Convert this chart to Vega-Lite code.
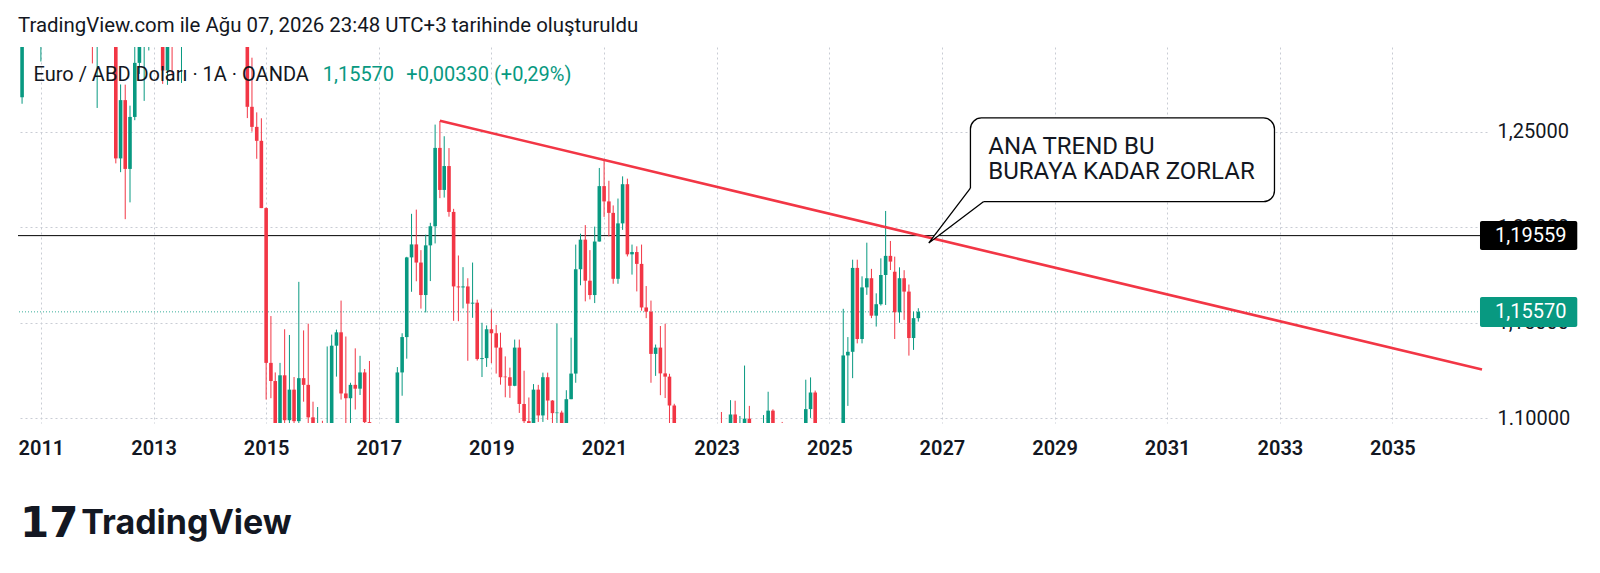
{
  "$schema": "https://vega.github.io/schema/vega-lite/v6.json",
  "width": 1469,
  "height": 376,
  "autosize": "none",
  "padding": {"left": 18, "top": 47, "right": 113, "bottom": 150},
  "background": "white",
  "config": {"view": {"stroke": null}, "font": "Roboto", "text": {"font": "Roboto"}},
  "title": {"text": "TradingView.com ile Ağu 07, 2026 23:48 UTC+3 tarihinde oluşturuldu", "anchor": "start", "frame": "group", "fontSize": 20.4, "fontWeight": "normal", "color": "#131722", "font": "Roboto", "baseline": "alphabetic", "offset": 14, "dy": 19},
  "datasets": {
    "eurusd": [
      {"date":"2010-09-01","open":1.2680,"high":1.3646,"low":1.2646,"close":1.3633},
      {"date":"2010-10-01","open":1.3633,"high":1.4157,"low":1.3618,"close":1.3924},
      {"date":"2010-11-01","open":1.3924,"high":1.4282,"low":1.2969,"close":1.2983},
      {"date":"2010-12-01","open":1.2983,"high":1.3500,"low":1.2970,"close":1.3380},
      {"date":"2011-01-01","open":1.3380,"high":1.3860,"low":1.2867,"close":1.3693},
      {"date":"2011-02-01","open":1.3693,"high":1.3862,"low":1.3430,"close":1.3806},
      {"date":"2011-03-01","open":1.3806,"high":1.4249,"low":1.3748,"close":1.4165},
      {"date":"2011-04-01","open":1.4165,"high":1.4940,"low":1.4150,"close":1.4808},
      {"date":"2011-05-01","open":1.4808,"high":1.4939,"low":1.3968,"close":1.4395},
      {"date":"2011-06-01","open":1.4395,"high":1.4700,"low":1.4071,"close":1.4500},
      {"date":"2011-07-01","open":1.4500,"high":1.4578,"low":1.4051,"close":1.4397},
      {"date":"2011-08-01","open":1.4397,"high":1.4550,"low":1.4133,"close":1.4385},
      {"date":"2011-09-01","open":1.4385,"high":1.4405,"low":1.3362,"close":1.3390},
      {"date":"2011-10-01","open":1.3390,"high":1.4247,"low":1.3144,"close":1.3860},
      {"date":"2011-11-01","open":1.3860,"high":1.3870,"low":1.3210,"close":1.3450},
      {"date":"2011-12-01","open":1.3450,"high":1.3550,"low":1.2857,"close":1.2960},
      {"date":"2012-01-01","open":1.2960,"high":1.3234,"low":1.2624,"close":1.3080},
      {"date":"2012-02-01","open":1.3080,"high":1.3487,"low":1.2973,"close":1.3330},
      {"date":"2012-03-01","open":1.3330,"high":1.3385,"low":1.3002,"close":1.3320},
      {"date":"2012-04-01","open":1.3320,"high":1.3380,"low":1.3002,"close":1.3240},
      {"date":"2012-05-01","open":1.3240,"high":1.3283,"low":1.2334,"close":1.2360},
      {"date":"2012-06-01","open":1.2360,"high":1.2747,"low":1.2288,"close":1.2665},
      {"date":"2012-07-01","open":1.2665,"high":1.2746,"low":1.2042,"close":1.2305},
      {"date":"2012-08-01","open":1.2305,"high":1.2636,"low":1.2130,"close":1.2577},
      {"date":"2012-09-01","open":1.2577,"high":1.3172,"low":1.2560,"close":1.2860},
      {"date":"2012-10-01","open":1.2860,"high":1.3140,"low":1.2802,"close":1.2960},
      {"date":"2012-11-01","open":1.2960,"high":1.3010,"low":1.2661,"close":1.2985},
      {"date":"2012-12-01","open":1.2985,"high":1.3308,"low":1.2925,"close":1.3190},
      {"date":"2013-01-01","open":1.3190,"high":1.3711,"low":1.3038,"close":1.3575},
      {"date":"2013-02-01","open":1.3575,"high":1.3711,"low":1.3019,"close":1.3055},
      {"date":"2013-03-01","open":1.3055,"high":1.3110,"low":1.2750,"close":1.2820},
      {"date":"2013-04-01","open":1.2820,"high":1.3243,"low":1.2745,"close":1.3170},
      {"date":"2013-05-01","open":1.3170,"high":1.3242,"low":1.2797,"close":1.2996},
      {"date":"2013-06-01","open":1.2996,"high":1.3417,"low":1.2950,"close":1.3010},
      {"date":"2013-07-01","open":1.3010,"high":1.3345,"low":1.2755,"close":1.3300},
      {"date":"2013-08-01","open":1.3300,"high":1.3450,"low":1.3205,"close":1.3220},
      {"date":"2013-09-01","open":1.3220,"high":1.3567,"low":1.3105,"close":1.3525},
      {"date":"2013-10-01","open":1.3525,"high":1.3832,"low":1.3470,"close":1.3585},
      {"date":"2013-11-01","open":1.3585,"high":1.3620,"low":1.3295,"close":1.3590},
      {"date":"2013-12-01","open":1.3590,"high":1.3893,"low":1.3548,"close":1.3765},
      {"date":"2014-01-01","open":1.3765,"high":1.3775,"low":1.3480,"close":1.3485},
      {"date":"2014-02-01","open":1.3485,"high":1.3824,"low":1.3477,"close":1.3805},
      {"date":"2014-03-01","open":1.3805,"high":1.3967,"low":1.3707,"close":1.3770},
      {"date":"2014-04-01","open":1.3770,"high":1.3906,"low":1.3673,"close":1.3870},
      {"date":"2014-05-01","open":1.3870,"high":1.3993,"low":1.3592,"close":1.3635},
      {"date":"2014-06-01","open":1.3635,"high":1.3700,"low":1.3503,"close":1.3690},
      {"date":"2014-07-01","open":1.3690,"high":1.3700,"low":1.3366,"close":1.3390},
      {"date":"2014-08-01","open":1.3390,"high":1.3444,"low":1.3130,"close":1.3130},
      {"date":"2014-09-01","open":1.3130,"high":1.3221,"low":1.2571,"close":1.2630},
      {"date":"2014-10-01","open":1.2630,"high":1.2887,"low":1.2500,"close":1.2525},
      {"date":"2014-11-01","open":1.2525,"high":1.2601,"low":1.2358,"close":1.2452},
      {"date":"2014-12-01","open":1.2452,"high":1.2570,"low":1.2100,"close":1.2100},
      {"date":"2015-01-01","open":1.2100,"high":1.2104,"low":1.1098,"close":1.1290},
      {"date":"2015-02-01","open":1.1290,"high":1.1535,"low":1.1105,"close":1.1195},
      {"date":"2015-03-01","open":1.1195,"high":1.1240,"low":1.0458,"close":1.0730},
      {"date":"2015-04-01","open":1.0730,"high":1.1290,"low":1.0520,"close":1.1225},
      {"date":"2015-05-01","open":1.1225,"high":1.1466,"low":1.0818,"close":1.0990},
      {"date":"2015-06-01","open":1.0990,"high":1.1436,"low":1.0887,"close":1.1150},
      {"date":"2015-07-01","open":1.1150,"high":1.1216,"low":1.0808,"close":1.0985},
      {"date":"2015-08-01","open":1.0985,"high":1.1714,"low":1.0848,"close":1.1210},
      {"date":"2015-09-01","open":1.1210,"high":1.1460,"low":1.1087,"close":1.1175},
      {"date":"2015-10-01","open":1.1175,"high":1.1495,"low":1.0897,"close":1.1005},
      {"date":"2015-11-01","open":1.1005,"high":1.1087,"low":1.0557,"close":1.0565},
      {"date":"2015-12-01","open":1.0565,"high":1.1059,"low":1.0524,"close":1.0860},
      {"date":"2016-01-01","open":1.0860,"high":1.0987,"low":1.0710,"close":1.0830},
      {"date":"2016-02-01","open":1.0830,"high":1.1376,"low":1.0810,"close":1.0870},
      {"date":"2016-03-01","open":1.0870,"high":1.1438,"low":1.0822,"close":1.1380},
      {"date":"2016-04-01","open":1.1380,"high":1.1464,"low":1.1218,"close":1.1450},
      {"date":"2016-05-01","open":1.1450,"high":1.1616,"low":1.1098,"close":1.1130},
      {"date":"2016-06-01","open":1.1130,"high":1.1428,"low":1.0912,"close":1.1105},
      {"date":"2016-07-01","open":1.1105,"high":1.1186,"low":1.0952,"close":1.1175},
      {"date":"2016-08-01","open":1.1175,"high":1.1366,"low":1.1046,"close":1.1155},
      {"date":"2016-09-01","open":1.1155,"high":1.1327,"low":1.1122,"close":1.1240},
      {"date":"2016-10-01","open":1.1240,"high":1.1258,"low":1.0851,"close":1.0980},
      {"date":"2016-11-01","open":1.0980,"high":1.1300,"low":1.0518,"close":1.0590},
      {"date":"2016-12-01","open":1.0590,"high":1.0874,"low":1.0352,"close":1.0520},
      {"date":"2017-01-01","open":1.0520,"high":1.0830,"low":1.0340,"close":1.0800},
      {"date":"2017-02-01","open":1.0800,"high":1.0829,"low":1.0494,"close":1.0575},
      {"date":"2017-03-01","open":1.0575,"high":1.0906,"low":1.0494,"close":1.0650},
      {"date":"2017-04-01","open":1.0650,"high":1.0950,"low":1.0570,"close":1.0895},
      {"date":"2017-05-01","open":1.0895,"high":1.1268,"low":1.0839,"close":1.1240},
      {"date":"2017-06-01","open":1.1240,"high":1.1445,"low":1.1118,"close":1.1425},
      {"date":"2017-07-01","open":1.1425,"high":1.1845,"low":1.1312,"close":1.1842},
      {"date":"2017-08-01","open":1.1842,"high":1.2070,"low":1.1662,"close":1.1910},
      {"date":"2017-09-01","open":1.1910,"high":1.2092,"low":1.1717,"close":1.1815},
      {"date":"2017-10-01","open":1.1815,"high":1.1880,"low":1.1574,"close":1.1645},
      {"date":"2017-11-01","open":1.1645,"high":1.1961,"low":1.1554,"close":1.1905},
      {"date":"2017-12-01","open":1.1905,"high":1.2023,"low":1.1718,"close":1.2005},
      {"date":"2018-01-01","open":1.2005,"high":1.2537,"low":1.1915,"close":1.2415},
      {"date":"2018-02-01","open":1.2415,"high":1.2555,"low":1.2152,"close":1.2195},
      {"date":"2018-03-01","open":1.2195,"high":1.2476,"low":1.2155,"close":1.2320},
      {"date":"2018-04-01","open":1.2320,"high":1.2414,"low":1.2055,"close":1.2080},
      {"date":"2018-05-01","open":1.2080,"high":1.2096,"low":1.1510,"close":1.1690},
      {"date":"2018-06-01","open":1.1690,"high":1.1852,"low":1.1508,"close":1.1685},
      {"date":"2018-07-01","open":1.1685,"high":1.1791,"low":1.1575,"close":1.1690},
      {"date":"2018-08-01","open":1.1690,"high":1.1733,"low":1.1301,"close":1.1600},
      {"date":"2018-09-01","open":1.1600,"high":1.1815,"low":1.1526,"close":1.1605},
      {"date":"2018-10-01","open":1.1605,"high":1.1621,"low":1.1302,"close":1.1310},
      {"date":"2018-11-01","open":1.1310,"high":1.1500,"low":1.1216,"close":1.1315},
      {"date":"2018-12-01","open":1.1315,"high":1.1486,"low":1.1269,"close":1.1466},
      {"date":"2019-01-01","open":1.1466,"high":1.1570,"low":1.1289,"close":1.1445},
      {"date":"2019-02-01","open":1.1445,"high":1.1489,"low":1.1234,"close":1.1370},
      {"date":"2019-03-01","open":1.1370,"high":1.1448,"low":1.1176,"close":1.1215},
      {"date":"2019-04-01","open":1.1218,"high":1.1324,"low":1.1110,"close":1.1215},
      {"date":"2019-05-01","open":1.1215,"high":1.1265,"low":1.1107,"close":1.1170},
      {"date":"2019-06-01","open":1.1170,"high":1.1412,"low":1.1168,"close":1.1370},
      {"date":"2019-07-01","open":1.1370,"high":1.1412,"low":1.1028,"close":1.1075},
      {"date":"2019-08-01","open":1.1075,"high":1.1249,"low":1.0926,"close":1.0985},
      {"date":"2019-09-01","open":1.0985,"high":1.1109,"low":1.0879,"close":1.0900},
      {"date":"2019-10-01","open":1.0900,"high":1.1179,"low":1.0879,"close":1.1150},
      {"date":"2019-11-01","open":1.1150,"high":1.1175,"low":1.0981,"close":1.1015},
      {"date":"2019-12-01","open":1.1015,"high":1.1239,"low":1.0981,"close":1.1215},
      {"date":"2020-01-01","open":1.1215,"high":1.1239,"low":1.0992,"close":1.1093},
      {"date":"2020-02-01","open":1.1093,"high":1.1095,"low":1.0778,"close":1.1027},
      {"date":"2020-03-01","open":1.1027,"high":1.1496,"low":1.0636,"close":1.1030},
      {"date":"2020-04-01","open":1.1030,"high":1.1040,"low":1.0727,"close":1.0955},
      {"date":"2020-05-01","open":1.0955,"high":1.1147,"low":1.0767,"close":1.1100},
      {"date":"2020-06-01","open":1.1100,"high":1.1422,"low":1.1100,"close":1.1234},
      {"date":"2020-07-01","open":1.1234,"high":1.1909,"low":1.1186,"close":1.1780},
      {"date":"2020-08-01","open":1.1780,"high":1.1966,"low":1.1696,"close":1.1935},
      {"date":"2020-09-01","open":1.1935,"high":1.2011,"low":1.1612,"close":1.1720},
      {"date":"2020-10-01","open":1.1720,"high":1.1880,"low":1.1622,"close":1.1645},
      {"date":"2020-11-01","open":1.1645,"high":1.2003,"low":1.1603,"close":1.1925},
      {"date":"2020-12-01","open":1.1925,"high":1.2310,"low":1.1925,"close":1.2215},
      {"date":"2021-01-01","open":1.2215,"high":1.2349,"low":1.2054,"close":1.2135},
      {"date":"2021-02-01","open":1.2135,"high":1.2243,"low":1.1952,"close":1.2075},
      {"date":"2021-03-01","open":1.2075,"high":1.2114,"low":1.1704,"close":1.1730},
      {"date":"2021-04-01","open":1.1730,"high":1.2150,"low":1.1704,"close":1.2020},
      {"date":"2021-05-01","open":1.2020,"high":1.2266,"low":1.1986,"close":1.2225},
      {"date":"2021-06-01","open":1.2225,"high":1.2254,"low":1.1847,"close":1.1858},
      {"date":"2021-07-01","open":1.1858,"high":1.1909,"low":1.1752,"close":1.1870},
      {"date":"2021-08-01","open":1.1870,"high":1.1900,"low":1.1664,"close":1.1808},
      {"date":"2021-09-01","open":1.1808,"high":1.1909,"low":1.1563,"close":1.1580},
      {"date":"2021-10-01","open":1.1580,"high":1.1692,"low":1.1524,"close":1.1558},
      {"date":"2021-11-01","open":1.1558,"high":1.1616,"low":1.1186,"close":1.1337},
      {"date":"2021-12-01","open":1.1337,"high":1.1386,"low":1.1222,"close":1.1370},
      {"date":"2022-01-01","open":1.1370,"high":1.1483,"low":1.1121,"close":1.1235},
      {"date":"2022-02-01","open":1.1235,"high":1.1495,"low":1.1106,"close":1.1218},
      {"date":"2022-03-01","open":1.1218,"high":1.1233,"low":1.0806,"close":1.1067},
      {"date":"2022-04-01","open":1.1067,"high":1.1076,"low":1.0471,"close":1.0545},
      {"date":"2022-05-01","open":1.0545,"high":1.0787,"low":1.0349,"close":1.0733},
      {"date":"2022-06-01","open":1.0733,"high":1.0774,"low":1.0359,"close":1.0484},
      {"date":"2022-07-01","open":1.0484,"high":1.0486,"low":0.9952,"close":1.0220},
      {"date":"2022-08-01","open":1.0220,"high":1.0369,"low":0.9901,"close":1.0055},
      {"date":"2022-09-01","open":1.0055,"high":1.0198,"low":0.9536,"close":0.9802},
      {"date":"2022-10-01","open":0.9802,"high":1.0094,"low":0.9632,"close":0.9884},
      {"date":"2022-11-01","open":0.9884,"high":1.0497,"low":0.9730,"close":1.0406},
      {"date":"2022-12-01","open":1.0406,"high":1.0736,"low":1.0393,"close":1.0705},
      {"date":"2023-01-01","open":1.0705,"high":1.0929,"low":1.0483,"close":1.0863},
      {"date":"2023-02-01","open":1.0863,"high":1.1033,"low":1.0533,"close":1.0576},
      {"date":"2023-03-01","open":1.0576,"high":1.0930,"low":1.0516,"close":1.0840},
      {"date":"2023-04-01","open":1.0840,"high":1.1095,"low":1.0788,"close":1.1020},
      {"date":"2023-05-01","open":1.1020,"high":1.1092,"low":1.0635,"close":1.0690},
      {"date":"2023-06-01","open":1.0690,"high":1.1012,"low":1.0662,"close":1.0910},
      {"date":"2023-07-01","open":1.0910,"high":1.1276,"low":1.0835,"close":1.0998},
      {"date":"2023-08-01","open":1.0998,"high":1.1065,"low":1.0766,"close":1.0845},
      {"date":"2023-09-01","open":1.0845,"high":1.0882,"low":1.0488,"close":1.0573},
      {"date":"2023-10-01","open":1.0573,"high":1.0695,"low":1.0448,"close":1.0575},
      {"date":"2023-11-01","open":1.0575,"high":1.1017,"low":1.0517,"close":1.0885},
      {"date":"2023-12-01","open":1.0885,"high":1.1139,"low":1.0724,"close":1.1040},
      {"date":"2024-01-01","open":1.1040,"high":1.1047,"low":1.0795,"close":1.0818},
      {"date":"2024-02-01","open":1.0818,"high":1.0897,"low":1.0695,"close":1.0805},
      {"date":"2024-03-01","open":1.0805,"high":1.0981,"low":1.0768,"close":1.0790},
      {"date":"2024-04-01","open":1.0790,"high":1.0885,"low":1.0601,"close":1.0667},
      {"date":"2024-05-01","open":1.0667,"high":1.0895,"low":1.0650,"close":1.0848},
      {"date":"2024-06-01","open":1.0848,"high":1.0916,"low":1.0668,"close":1.0713},
      {"date":"2024-07-01","open":1.0713,"high":1.0948,"low":1.0709,"close":1.0825},
      {"date":"2024-08-01","open":1.0825,"high":1.1202,"low":1.0778,"close":1.1048},
      {"date":"2024-09-01","open":1.1048,"high":1.1214,"low":1.1002,"close":1.1135},
      {"date":"2024-10-01","open":1.1135,"high":1.1145,"low":1.0761,"close":1.0884},
      {"date":"2024-11-01","open":1.0884,"high":1.0937,"low":1.0332,"close":1.0577},
      {"date":"2024-12-01","open":1.0577,"high":1.0630,"low":1.0344,"close":1.0354},
      {"date":"2025-01-01","open":1.0354,"high":1.0533,"low":1.0178,"close":1.0362},
      {"date":"2025-02-01","open":1.0362,"high":1.0513,"low":1.0211,"close":1.0375},
      {"date":"2025-03-01","open":1.0375,"high":1.0955,"low":1.0360,"close":1.0816},
      {"date":"2025-04-01","open":1.0816,"high":1.1573,"low":1.0778,"close":1.1329},
      {"date":"2025-05-01","open":1.1329,"high":1.1425,"low":1.1065,"close":1.1348},
      {"date":"2025-06-01","open":1.1348,"high":1.1830,"low":1.1210,"close":1.1787},
      {"date":"2025-07-01","open":1.1787,"high":1.1830,"low":1.1392,"close":1.1415},
      {"date":"2025-08-01","open":1.1415,"high":1.1743,"low":1.1392,"close":1.1685},
      {"date":"2025-09-01","open":1.1685,"high":1.1919,"low":1.1646,"close":1.1733},
      {"date":"2025-10-01","open":1.1733,"high":1.1782,"low":1.1524,"close":1.1537},
      {"date":"2025-11-01","open":1.1537,"high":1.1654,"low":1.1480,"close":1.1597},
      {"date":"2025-12-01","open":1.1597,"high":1.1837,"low":1.1590,"close":1.1750},
      {"date":"2026-01-01","open":1.1750,"high":1.2085,"low":1.1593,"close":1.1850},
      {"date":"2026-02-01","open":1.1850,"high":1.1928,"low":1.1776,"close":1.1820},
      {"date":"2026-03-01","open":1.1767,"high":1.1846,"low":1.1415,"close":1.1555},
      {"date":"2026-04-01","open":1.1555,"high":1.1790,"low":1.1500,"close":1.1733},
      {"date":"2026-05-01","open":1.1733,"high":1.1775,"low":1.1515,"close":1.1663},
      {"date":"2026-06-01","open":1.1663,"high":1.1700,"low":1.1328,"close":1.1420},
      {"date":"2026-07-01","open":1.1420,"high":1.1558,"low":1.1358,"close":1.1524},
      {"date":"2026-08-01","open":1.1524,"high":1.1576,"low":1.1506,"close":1.1557}
    ]
  },
  "layer": [
    {
      "data": {"values": [{"price": 1.19559}]},
      "mark": {"type": "rule", "color": "#000000", "strokeWidth": 1},
      "encoding": {
        "y": {"field": "price", "type": "quantitative", "title": null,
          "scale": {"domain": [1.09754, 1.2943], "zero": false, "nice": false},
          "axis": {"orient": "right", "title": null, "values": [1.10, 1.15, 1.20, 1.25],
            "labelExpr": "datum.value < 1.125 ? '1.10000' : replace(format(datum.value, '.5f'), '.', ',')",
            "labelFontSize": 20, "labelColor": "#131722", "labelFont": "Roboto", "labelAlign": "left", "labelPadding": 10,
            "domain": false, "ticks": false, "grid": true, "gridColor": "#c9ccd4", "gridDash": [2, 3], "gridWidth": 1}}
      }
    },
    {
      "data": {"values": [{"price": 1.1557}]},
      "mark": {"type": "rule", "color": "#089981", "strokeWidth": 1, "strokeDash": [1, 2], "opacity": 0.8},
      "encoding": {"y": {"field": "price", "type": "quantitative", "title": null}}
    },
    {
      "data": {"name": "eurusd"},
      "mark": {"type": "rule", "strokeWidth": 1, "clip": true},
      "encoding": {
        "x": {"field": "date", "type": "temporal", "title": null,
          "scale": {"type": "utc", "domain": [{"year": 2010, "month": 9, "date": 7, "utc": true}, {"year": 2036, "month": 8, "date": 4, "utc": true}]},
          "axis": {"title": null, "format": "%Y", "formatType": "time",
            "values": [
              {"year": 2011, "month": 1, "date": 1, "utc": true},
              {"year": 2013, "month": 1, "date": 1, "utc": true},
              {"year": 2015, "month": 1, "date": 1, "utc": true},
              {"year": 2017, "month": 1, "date": 1, "utc": true},
              {"year": 2019, "month": 1, "date": 1, "utc": true},
              {"year": 2021, "month": 1, "date": 1, "utc": true},
              {"year": 2023, "month": 1, "date": 1, "utc": true},
              {"year": 2025, "month": 1, "date": 1, "utc": true},
              {"year": 2027, "month": 1, "date": 1, "utc": true},
              {"year": 2029, "month": 1, "date": 1, "utc": true},
              {"year": 2031, "month": 1, "date": 1, "utc": true},
              {"year": 2033, "month": 1, "date": 1, "utc": true},
              {"year": 2035, "month": 1, "date": 1, "utc": true}
            ],
            "labelFontSize": 20, "labelFontWeight": 600, "labelColor": "#131722", "labelFont": "Roboto", "labelPadding": 15,
            "domain": false, "ticks": false, "grid": true, "gridColor": "#c9ccd4", "gridDash": [2, 3], "gridWidth": 1}},
        "y": {"field": "low", "type": "quantitative", "title": null},
        "y2": {"field": "high"},
        "color": {"condition": {"test": "datum.close >= datum.open", "value": "#089981"}, "value": "#F23645"}
      }
    },
    {
      "data": {"name": "eurusd"},
      "mark": {"type": "bar", "width": 3.6, "clip": true},
      "encoding": {
        "x": {"field": "date", "type": "temporal", "title": null},
        "y": {"field": "open", "type": "quantitative", "title": null},
        "y2": {"field": "close"},
        "color": {"condition": {"test": "datum.close >= datum.open", "value": "#089981"}, "value": "#F23645"}
      }
    },
    {
      "data": {"values": [{"date": "2018-02-01", "price": 1.2557}, {"date": "2036-08-04", "price": 1.1255}]},
      "mark": {"type": "line", "color": "#F23645", "strokeWidth": 2.6, "clip": true},
      "encoding": {
        "x": {"field": "date", "type": "temporal", "title": null},
        "y": {"field": "price", "type": "quantitative", "title": null}
      }
    },
    {
      "data": {"values": [{"date": "2027-07-05", "top": 1.25717, "bottom": 1.21337, "end": "2032-11-27"}]},
      "mark": {"type": "rect", "fill": "#ffffff", "stroke": "#000000", "strokeWidth": 1.3, "cornerRadius": 11},
      "encoding": {
        "x": {"field": "date", "type": "temporal", "title": null},
        "x2": {"field": "end"},
        "y": {"field": "top", "type": "quantitative", "title": null},
        "y2": {"field": "bottom"}
      }
    },
    {
      "data": {"values": [
        {"date": "2026-10-08", "top": 1.19176, "bottom": 1.19176},
        {"date": "2027-07-05", "top": 1.2205, "bottom": 1.20824},
        {"date": "2027-09-27", "top": 1.2195, "bottom": 1.21337}
      ]},
      "mark": {"type": "area", "color": "#ffffff", "opacity": 1},
      "encoding": {
        "x": {"field": "date", "type": "temporal", "title": null},
        "y": {"field": "top", "type": "quantitative", "title": null},
        "y2": {"field": "bottom"}
      }
    },
    {
      "data": {"values": [
        {"date": "2027-07-05", "price": 1.2205, "step": 1},
        {"date": "2026-10-08", "price": 1.19176, "step": 2},
        {"date": "2027-09-27", "price": 1.21337, "step": 3}
      ]},
      "mark": {"type": "line", "color": "#000000", "strokeWidth": 1.3},
      "encoding": {
        "x": {"field": "date", "type": "temporal", "title": null},
        "y": {"field": "price", "type": "quantitative", "title": null},
        "order": {"field": "step", "type": "quantitative"}
      }
    },
    {
      "data": {"values": [
        {"date": "2027-10-29", "price": 1.24215, "label": "ANA TREND BU"},
        {"date": "2027-10-29", "price": 1.22907, "label": "BURAYA KADAR ZORLAR"}
      ]},
      "mark": {"type": "text", "align": "left", "baseline": "middle", "fontSize": 24, "font": "Roboto", "color": "#131722"},
      "encoding": {
        "x": {"field": "date", "type": "temporal", "title": null},
        "y": {"field": "price", "type": "quantitative", "title": null},
        "text": {"field": "label"}
      }
    },
    {
      "data": {"values": [{"date": "2010-11-14", "price": 1.2794, "label": "Euro / ABD Doları · 1A · OANDA"}]},
      "mark": {"type": "text", "align": "left", "baseline": "middle", "fontSize": 20, "font": "Roboto", "color": "#131722"},
      "encoding": {
        "x": {"field": "date", "type": "temporal", "title": null},
        "y": {"field": "price", "type": "quantitative", "title": null},
        "text": {"field": "label"}
      }
    },
    {
      "data": {"values": [
        {"date": "2016-01-03", "price": 1.2794, "label": "1,15570"},
        {"date": "2017-06-28", "price": 1.2794, "label": "+0,00330 (+0,29%)"}
      ]},
      "mark": {"type": "text", "align": "left", "baseline": "middle", "fontSize": 20, "font": "Roboto", "color": "#089981"},
      "encoding": {
        "x": {"field": "date", "type": "temporal", "title": null},
        "y": {"field": "price", "type": "quantitative", "title": null},
        "text": {"field": "label"}
      }
    },
    {
      "data": {"values": [
        {"date": "2036-07-22", "end": "2038-04-14", "top": 1.20327, "bottom": 1.18809, "kind": "level"},
        {"date": "2036-07-22", "end": "2038-04-14", "top": 1.16349, "bottom": 1.14779, "kind": "last"}
      ]},
      "mark": {"type": "rect", "cornerRadius": 2},
      "encoding": {
        "x": {"field": "date", "type": "temporal", "title": null},
        "x2": {"field": "end"},
        "y": {"field": "top", "type": "quantitative", "title": null},
        "y2": {"field": "bottom"},
        "color": {"condition": {"test": "datum.kind == 'level'", "value": "#000000"}, "value": "#089981"}
      }
    },
    {
      "data": {"values": [
        {"date": "2036-10-28", "price": 1.19559, "label": "1,19559"},
        {"date": "2036-10-28", "price": 1.1557, "label": "1,15570"}
      ]},
      "mark": {"type": "text", "align": "left", "baseline": "middle", "fontSize": 20, "font": "Roboto", "color": "#ffffff"},
      "encoding": {
        "x": {"field": "date", "type": "temporal", "title": null},
        "y": {"field": "price", "type": "quantitative", "title": null},
        "text": {"field": "label"}
      }
    },
    {
      "data": {"values": [{"date": "2010-08-18", "price": 1.0447, "label": "17"}]},
      "mark": {"type": "text", "align": "left", "baseline": "middle", "fontSize": 42, "font": "DejaVu Sans", "fontWeight": "bold", "color": "#131722"},
      "encoding": {
        "x": {"field": "date", "type": "temporal", "title": null},
        "y": {"field": "price", "type": "quantitative", "title": null},
        "text": {"field": "label"}
      }
    },
    {
      "data": {"values": [{"date": "2011-09-20", "price": 1.0447, "label": "TradingView"}]},
      "mark": {"type": "text", "align": "left", "baseline": "middle", "fontSize": 34, "font": "Inter", "fontWeight": "bold", "color": "#131722"},
      "encoding": {
        "x": {"field": "date", "type": "temporal", "title": null},
        "y": {"field": "price", "type": "quantitative", "title": null},
        "text": {"field": "label"}
      }
    }
  ]
}
